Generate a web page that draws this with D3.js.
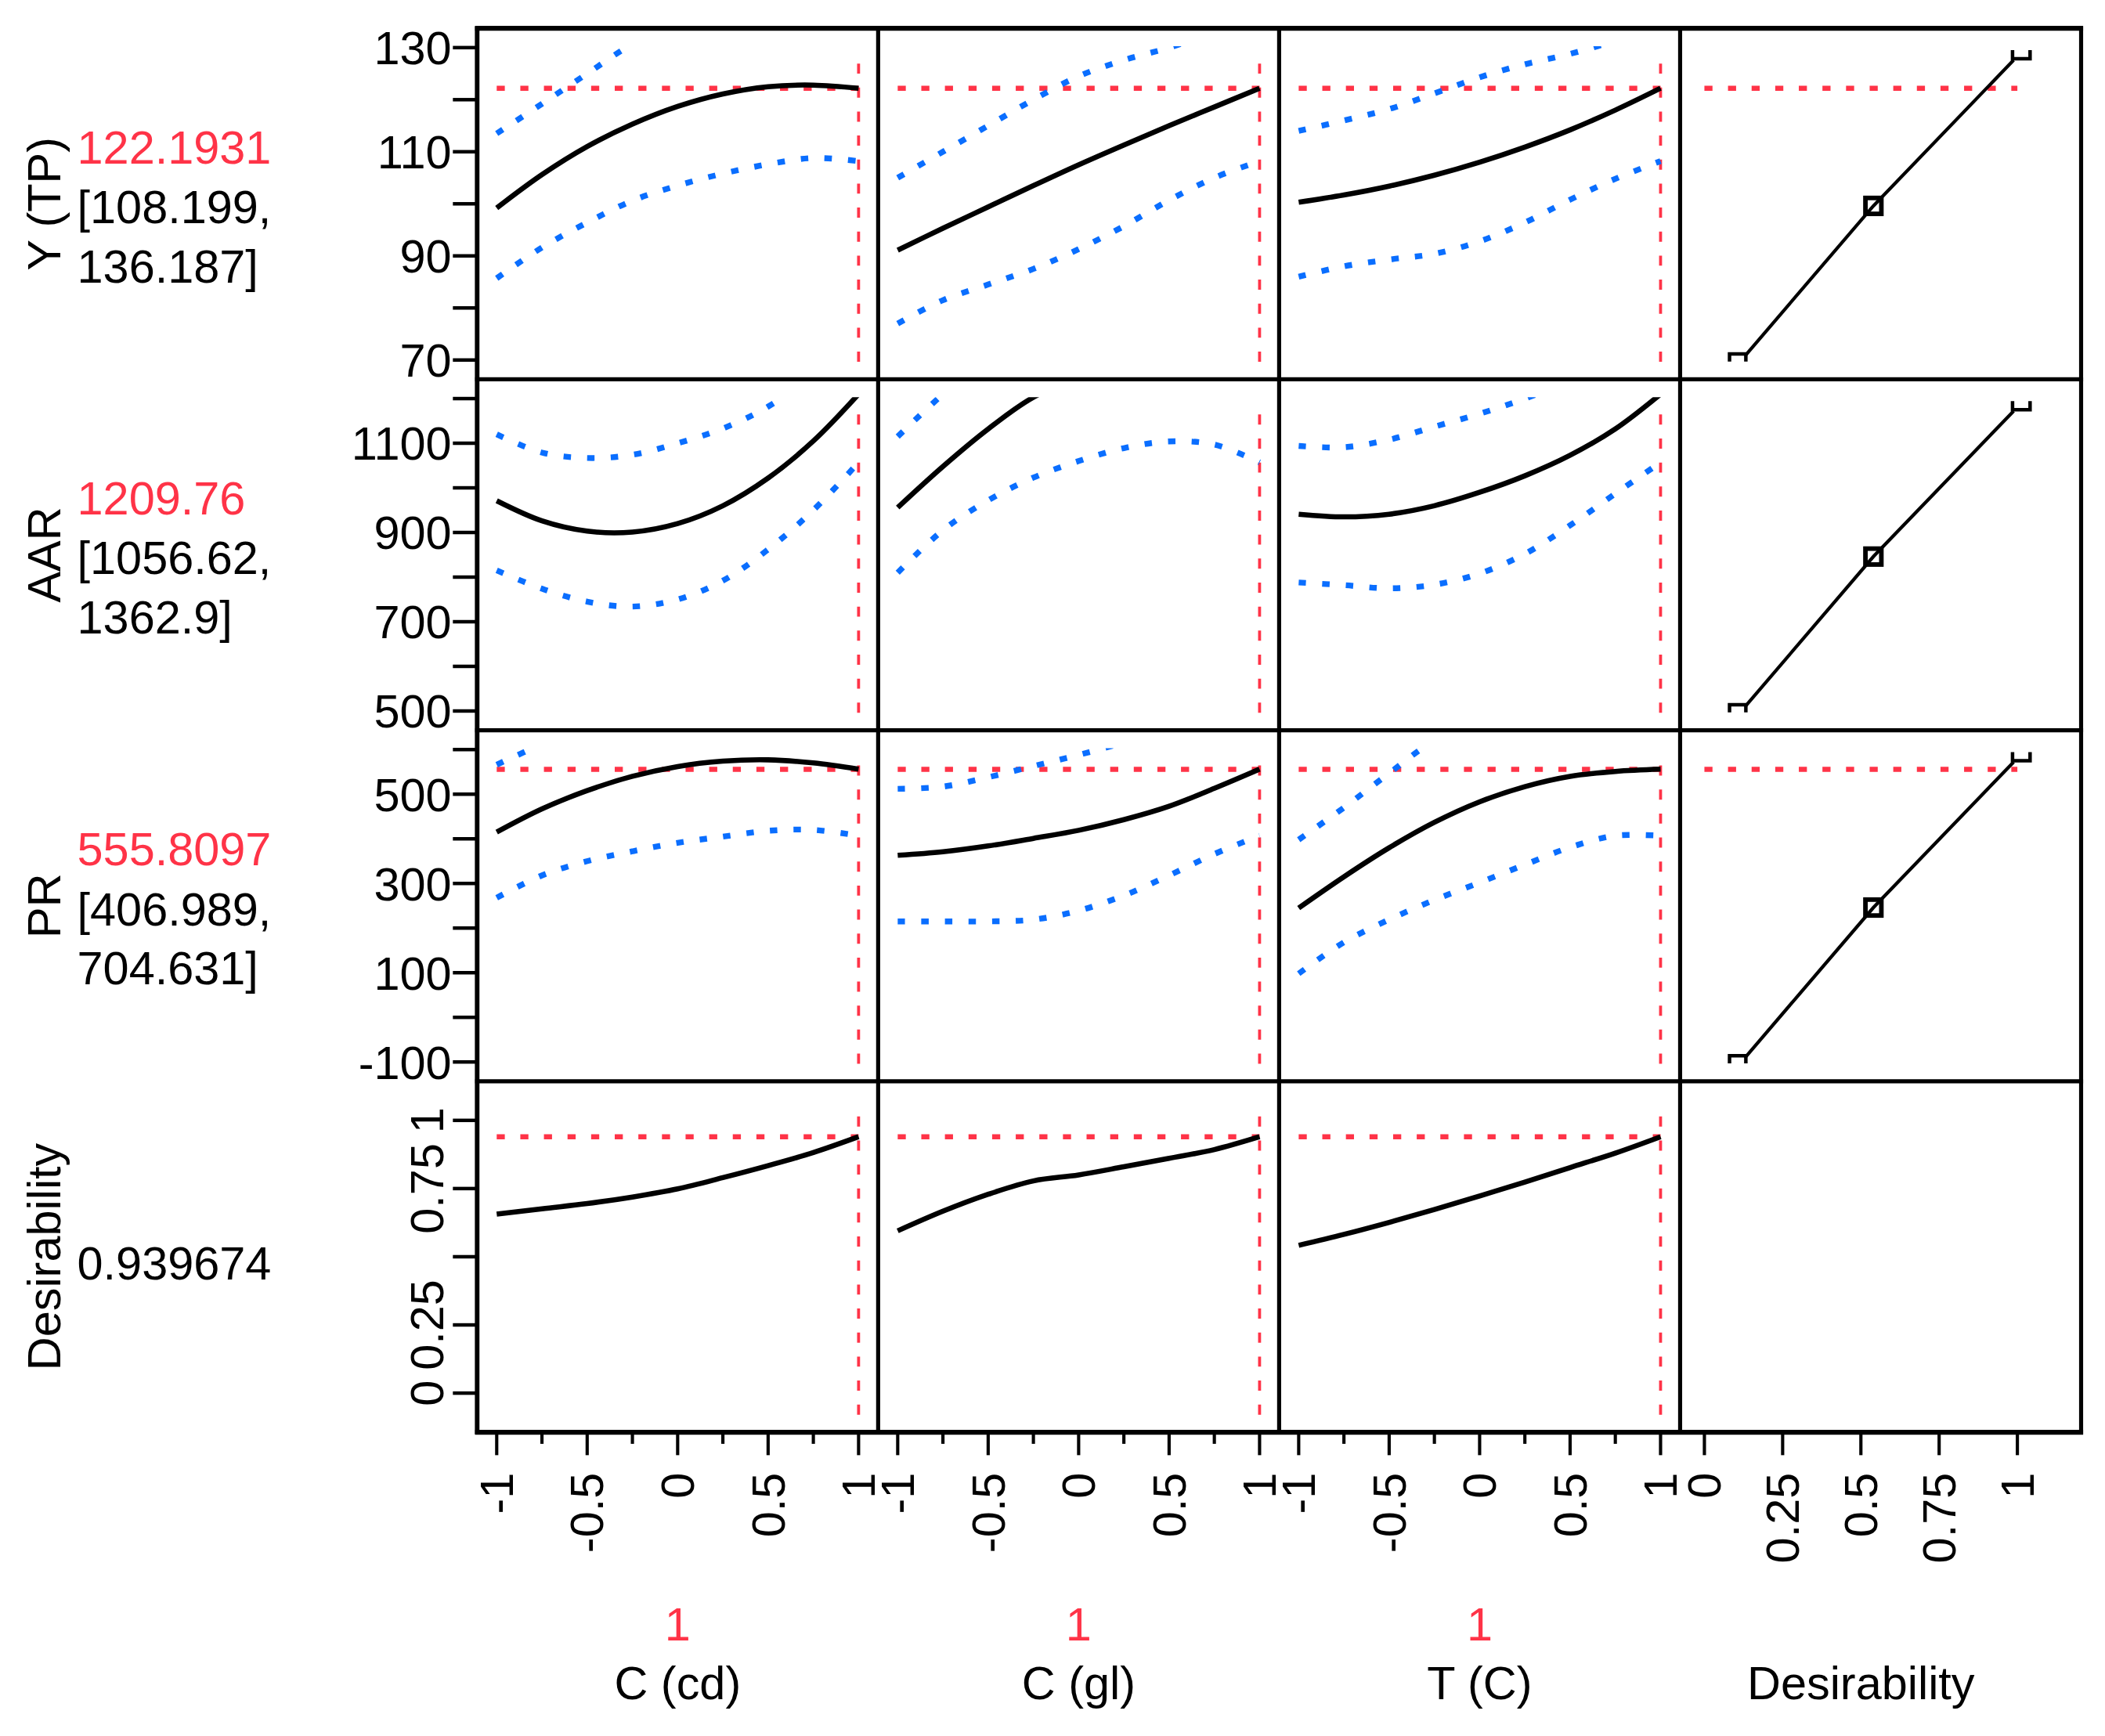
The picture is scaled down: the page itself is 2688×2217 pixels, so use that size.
<!DOCTYPE html>
<html>
<head>
<meta charset="utf-8">
<script src="https://cdn.jsdelivr.net/npm/d3@7"></script>
<style>
html, body { margin: 0; padding: 0; background: #fff; }
svg { display: block; }
text { font-family: "Liberation Sans", Arial, sans-serif; }
</style>
</head>
<body>
<svg id="chart" width="2688" height="2217" viewBox="0 0 1560 1287"></svg>
<script>
const factorLevels = [-1, -0.75, -0.5, -0.25, 0, 0.25, 0.5, 0.75, 1];
const factorLabelTicks = [-1, -0.5, 0, 0.5, 1];
const desirTicks = [0, 0.25, 0.5, 0.75, 1];
const factorNames = ["C (cd)", "C (gl)", "T (C)"];
const factorCurrent = [1, 1, 1];

const responseNames = ["Y (TP)", "AAR", "PR", "Desirability"];
const predicted = [122.1931, 1209.76, 555.8097, 0.939674];
const predictedText = ["122.1931", "1209.76", "555.8097", "0.939674"];
const ciLowText = ["[108.199,", "[1056.62,", "[406.989,"];
const ciHighText = ["136.187]", "1362.9]", "704.631]"];

const tpTicks = [70, 80, 90, 100, 110, 120, 130];
const tpTickLabels = [70, 90, 110, 130];
const aarTicks = [500, 600, 700, 800, 900, 1000, 1100, 1200];
const aarTickLabels = [500, 700, 900, 1100];
const prTicks = [-100, 0, 100, 200, 300, 400, 500, 600];
const prTickLabels = [-100, 100, 300, 500];
const desTicks = [0, 0.25, 0.5, 0.75, 1];
const desTickLabels = [0, 0.25, 0.75, 1];

// Y (TP)
const tpCd   = [99.2, 105.6, 111.0, 115.3, 118.7, 121.1, 122.5, 122.8, 122.2];
const tpCdLo = [85.7, 91.6, 96.4, 100.6, 103.5, 105.8, 107.6, 108.8, 108.2];
const tpCdHi = [113.5, 119.2, 125.0, 130.6, 134.0, 136.5, 137.5, 137.2, 136.2];
const tpGl   = [91.1, 95.3, 99.4, 103.5, 107.5, 111.3, 115.0, 118.6, 122.2];
const tpGlLo = [77.0, 81.5, 84.5, 87.5, 91.3, 95.7, 100.7, 105.0, 108.2];
const tpGlHi = [105.0, 110.0, 115.0, 120.0, 124.5, 127.6, 130.0, 133.0, 136.2];
const tpT    = [100.3, 101.7, 103.4, 105.5, 108.0, 110.9, 114.2, 118.0, 122.2];
const tpTLo  = [86.0, 88.0, 89.3, 90.4, 92.8, 96.4, 100.8, 104.8, 108.2];
const tpTHi  = [114.0, 116.0, 118.2, 121.2, 124.3, 126.8, 128.8, 131.5, 136.2];

// AAR
const aarCd   = [971, 926, 903, 901, 920, 960, 1022, 1105, 1210];
const aarCdLo = [815, 774, 745, 734, 750, 792, 862, 950, 1057];
const aarCdHi = [1120, 1079, 1067, 1074, 1100, 1133, 1182, 1255, 1363];
const aarGl   = [956, 1048, 1132, 1203, 1245, 1270, 1278, 1262, 1210];
const aarGlLo = [810, 905, 972, 1023, 1060, 1089, 1104, 1097, 1057];
const aarGlHi = [1115, 1210, 1295, 1370, 1420, 1450, 1455, 1430, 1363];
const aarT    = [941, 935, 941, 960, 990, 1027, 1073, 1132, 1210];
const aarTLo  = [788, 782, 775, 783, 808, 852, 916, 987, 1057];
const aarTHi  = [1094, 1091, 1108, 1137, 1166, 1200, 1240, 1295, 1363];

// PR
const prCd   = [415, 467, 508, 540, 562, 574, 577, 570, 556];
const prCdLo = [268, 318, 350, 372, 391, 405, 418, 420, 407];
const prCdHi = [566, 612, 652, 682, 704, 718, 722, 716, 705];
const prGl   = [363, 371, 384, 401, 419, 443, 473, 513, 556];
const prGlLo = [215, 215, 215, 219, 239, 273, 318, 366, 407];
const prGlHi = [512, 517, 538, 563, 588, 615, 640, 672, 705];
const prT    = [245, 315, 380, 437, 483, 517, 540, 551, 556];
const prTLo  = [98, 168, 219, 263, 302, 342, 381, 407, 407];
const prTHi  = [398, 470, 547, 620, 660, 685, 700, 706, 705];

// Desirability
const dCd = [0.656, 0.676, 0.695, 0.719, 0.749, 0.790, 0.834, 0.882, 0.94];
const dGl = [0.595, 0.667, 0.729, 0.778, 0.800, 0.830, 0.861, 0.893, 0.94];
const dT  = [0.542, 0.582, 0.626, 0.673, 0.723, 0.774, 0.827, 0.880, 0.94];

// desirability functions (desirability, response)
const desirX = [0.129, 0.54, 0.988];
const tpDesirY = [70.75, 99.6, 127.6];
const aarDesirY = [509, 846, 1172];
const prDesirY = [-91, 246, 572];

// ---- assemble ----
const yTicks = [tpTicks, aarTicks, prTicks, desTicks];
const yTickLabels = [tpTickLabels, aarTickLabels, prTickLabels, desTickLabels];
const curves = [
  [[tpCd, tpCdLo, tpCdHi], [tpGl, tpGlLo, tpGlHi], [tpT, tpTLo, tpTHi]],
  [[aarCd, aarCdLo, aarCdHi], [aarGl, aarGlLo, aarGlHi], [aarT, aarTLo, aarTHi]],
  [[prCd, prCdLo, prCdHi], [prGl, prGlLo, prGlHi], [prT, prTLo, prTHi]],
  [[dCd], [dGl], [dT]]
];
const desirY = [tpDesirY, aarDesirY, prDesirY];

const RED = "#ff3347", BLUE = "#0a6eff", FS = 34.5;

const L = 353.5, T = 21, W = 297.25, H = 260.2;
const nRows = 4, nCols = 4;
const bottom = T + nRows * H;
const cellX = c => L + c * W;
const cellY = r => T + r * H;

const xFactor = factorNames.map((_, c) =>
  d3.scaleLinear().domain([-1, 1]).range([cellX(c) + 14.5, cellX(c) + W - 14.5]));
const xDesir = d3.scaleLinear().domain([0, 1]).range([cellX(3) + 18, cellX(3) + 250]);

const yPad = [14.3, 14.3, 14.3, 29];
const yScales = yTicks.map((t, r) =>
  d3.scaleLinear().domain(d3.extent(t)).range([cellY(r) + H - yPad[r], cellY(r) + yPad[r]]));

const svg = d3.select("#chart");
const defs = svg.append("defs");

// clipped group for one cell: nothing drawn above the top tick value
function cellGroup(r, c) {
  const ys = yScales[r];
  const clipTop = r < 3 ? ys(d3.max(yTicks[r])) - 1 : cellY(r);
  const id = `clip-${r}-${c}`;
  defs.append("clipPath").attr("id", id)
    .append("rect")
    .attr("x", cellX(c)).attr("y", clipTop)
    .attr("width", W).attr("height", cellY(r) + H - clipTop);
  return svg.append("g").attr("clip-path", `url(#${id})`);
}

// ---- panels ----
curves.forEach((rowCurves, r) => {
  const ys = yScales[r];
  rowCurves.forEach((set, c) => {
    const xs = xFactor[c];

    // current factor setting
    svg.append("line")
      .attr("x1", xs(factorCurrent[c])).attr("x2", xs(factorCurrent[c]))
      .attr("y1", cellY(r) + H - 13).attr("y2", cellY(r) + 16)
      .attr("stroke", RED).attr("stroke-width", 2.2)
      .attr("stroke-dasharray", "7.5,10.3");

    const g = cellGroup(r, c);

    // current response value
    g.append("line")
      .attr("x1", xs(-1)).attr("x2", xs(1))
      .attr("y1", ys(predicted[r])).attr("y2", ys(predicted[r]))
      .attr("stroke", RED).attr("stroke-width", 3.8)
      .attr("stroke-dasharray", "6,11.5");

    const line = d3.line()
      .x((d, i) => xs(factorLevels[i]))
      .y(d => ys(d))
      .curve(d3.curveCatmullRom.alpha(0.5));

    set.slice(1).forEach(band => {
      g.append("path").attr("d", line(band))
        .attr("fill", "none").attr("stroke", BLUE)
        .attr("stroke-width", 4.3).attr("stroke-dasharray", "5.5,12");
    });
    g.append("path").attr("d", line(set[0]))
      .attr("fill", "none").attr("stroke", "#000")
      .attr("stroke-width", 3.8);
  });
});

// ---- desirability column ----
desirY.forEach((vals, r) => {
  const ys = yScales[r];
  const g = cellGroup(r, 3);
  g.append("line")
    .attr("x1", xDesir(0)).attr("x2", xDesir(1))
    .attr("y1", ys(predicted[r])).attr("y2", ys(predicted[r]))
    .attr("stroke", RED).attr("stroke-width", 3.8)
    .attr("stroke-dasharray", "6,11.5");

  const pts = desirX.map((d, i) => [xDesir(d), ys(vals[i])]);
  svg.append("path").attr("d", d3.line()(pts))
    .attr("fill", "none").attr("stroke", "#000").attr("stroke-width", 2.5);

  const [b, m, t] = pts;
  svg.append("path")
    .attr("d", `M${b[0] - 11.3},${b[1] + 4} V${b[1] - 1.6} H${b[0] + 0.8} V${b[1] + 4}`)
    .attr("fill", "none").attr("stroke", "#000").attr("stroke-width", 2.6);
  svg.append("rect")
    .attr("x", m[0] - 5.9).attr("y", m[1] - 5.9)
    .attr("width", 11.8).attr("height", 11.8)
    .attr("fill", "none").attr("stroke", "#000").attr("stroke-width", 3.4);
  svg.append("path")
    .attr("d", `M${t[0] - 0.8},${t[1] - 7.4} V${t[1] - 1} H${t[0] + 12.2} V${t[1] - 7.4}`)
    .attr("fill", "none").attr("stroke", "#000").attr("stroke-width", 2.6);
});

// ---- frame ----
d3.range(nCols + 1).forEach(c => {
  svg.append("line")
    .attr("x1", cellX(c)).attr("x2", cellX(c))
    .attr("y1", T - 1.5).attr("y2", bottom + 1.5)
    .attr("stroke", "#000").attr("stroke-width", c === 0 ? 3.4 : 3);
});
d3.range(nRows + 1).forEach(r => {
  svg.append("line")
    .attr("x1", L - 1.5).attr("x2", L + nCols * W + 1.5)
    .attr("y1", cellY(r)).attr("y2", cellY(r))
    .attr("stroke", "#000").attr("stroke-width", (r === 0 || r === nRows) ? 3.6 : 3);
});

// ---- y axes ----
yScales.forEach((ys, r) => {
  svg.append("g").selectAll("line").data(yTicks[r]).join("line")
    .attr("x1", L - 18).attr("x2", L)
    .attr("y1", d => ys(d)).attr("y2", d => ys(d))
    .attr("stroke", "#000").attr("stroke-width", 2.6);
  const lab = svg.append("g").selectAll("text").data(yTickLabels[r]).join("text")
    .attr("font-size", FS).attr("fill", "#000")
    .text(d => String(d));
  if (r < 3) {
    lab.attr("x", L - 19).attr("y", d => ys(d)).attr("dy", "0.36em")
      .attr("text-anchor", "end");
  } else {
    lab.attr("text-anchor", "middle")
      .attr("transform", d => `translate(${L - 25},${ys(d)}) rotate(-90)`);
  }
});

// ---- x axes ----
xFactor.forEach((xs, c) => {
  svg.append("g").selectAll("line").data(factorLevels).join("line")
    .attr("x1", d => xs(d)).attr("x2", d => xs(d))
    .attr("y1", bottom).attr("y2", d => factorLabelTicks.includes(d) ? bottom + 17 : bottom + 8.6)
    .attr("stroke", "#000").attr("stroke-width", 2.4);
  svg.append("g").selectAll("text").data(factorLabelTicks).join("text")
    .attr("font-size", FS).attr("text-anchor", "end")
    .attr("transform", d => `translate(${xs(d) + 12},${bottom + 30}) rotate(-90)`)
    .text(d => String(d));
  svg.append("text")
    .attr("x", xs(0)).attr("y", 1216)
    .attr("font-size", FS).attr("text-anchor", "middle").attr("fill", RED)
    .text(String(factorCurrent[c]));
  svg.append("text")
    .attr("x", xs(0)).attr("y", 1260)
    .attr("font-size", FS).attr("text-anchor", "middle")
    .text(factorNames[c]);
});
svg.append("g").selectAll("line").data(desirTicks).join("line")
  .attr("x1", d => xDesir(d)).attr("x2", d => xDesir(d))
  .attr("y1", bottom).attr("y2", bottom + 17)
  .attr("stroke", "#000").attr("stroke-width", 2.4);
svg.append("g").selectAll("text").data(desirTicks).join("text")
  .attr("font-size", FS).attr("text-anchor", "end")
  .attr("transform", d => `translate(${xDesir(d) + 12},${bottom + 30}) rotate(-90)`)
  .text(d => String(d));
svg.append("text")
  .attr("x", xDesir(0.5)).attr("y", 1260)
  .attr("font-size", FS).attr("text-anchor", "middle")
  .text("Desirability");

// ---- row labels ----
responseNames.forEach((name, r) => {
  const cy = cellY(r) + H / 2;
  svg.append("text")
    .attr("font-size", FS).attr("text-anchor", "middle")
    .attr("transform", `translate(44.5,${cy}) rotate(-90)`)
    .text(name);
  if (r < 3) {
    svg.append("text").attr("x", 57).attr("y", cy - 30)
      .attr("font-size", FS).attr("fill", RED).text(predictedText[r]);
    svg.append("text").attr("x", 57).attr("y", cy + 14.5)
      .attr("font-size", FS).text(ciLowText[r]);
    svg.append("text").attr("x", 57).attr("y", cy + 58.5)
      .attr("font-size", FS).text(ciHighText[r]);
  } else {
    svg.append("text").attr("x", 57).attr("y", cy + 17)
      .attr("font-size", FS).text(predictedText[r]);
  }
});
</script>
</body>
</html>
